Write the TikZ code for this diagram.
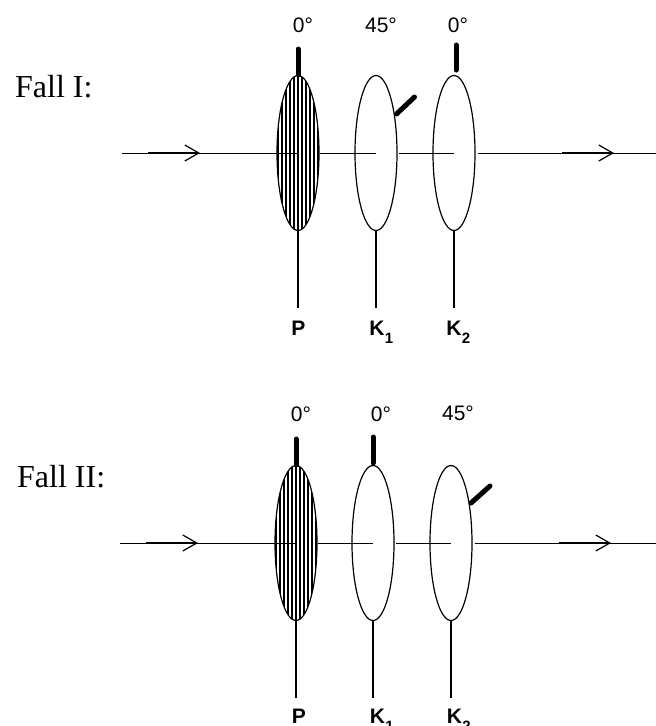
\documentclass[tikz,border=0pt]{standalone}
\usepackage{fontspec}
\setmainfont{Liberation Sans}
\newfontfamily\timesf{Liberation Serif}
\usetikzlibrary{shapes.geometric,arrows.meta}
\tikzset{
  x=1pt,y=-1pt,
  lens/.style={draw=black,ellipse,line width=1.2pt,minimum width=42pt,minimum height=155pt,inner sep=0pt},
  ax/.style={line width=1pt,draw=black},
  stem/.style={line width=1.3pt,draw=black},
  bar/.style={line width=5pt,draw=black,line cap=round},
  ang/.style={font=\fontsize{21}{23}\selectfont,inner sep=0pt,anchor=base},
  lab/.style={font=\fontsize{21}{23}\selectfont\bfseries,inner sep=0pt,anchor=base},
  fall/.style={font=\timesf\fontsize{32}{34}\selectfont,inner sep=0pt,anchor=base west},
  sb/.style={font=\fontsize{15}{15}\selectfont\bfseries,inner sep=0pt,anchor=base west},
  hatch/.style={line width=1.6pt,draw=black},
  arrowhead/.style={line width=1.3pt,draw=black,-{Straight Barb[length=14pt,width=16pt,line width=1.2pt]}}
}
% #1 x of P, #2 y of axis, #3 x K1, #4 x K2, #5 prefix
\newcommand{\rowdraw}[5]{%
  \begin{scope}
    \clip (#1,#2) ellipse [x radius=21,y radius=77.5];
    \foreach \d in {-20,-16,...,20} \draw[hatch] (#1+\d,#2-78) -- (#1+\d,#2+78);
  \end{scope}
  \node[lens] (#5p) at (#1,#2) {};
  \node[lens] (#5a) at (#3,#2) {};
  \node[lens] (#5b) at (#4,#2) {};
  \coordinate (#5s) at (#1-176,#2);
  \coordinate (#5e) at (656,#2);
  \coordinate (#5i) at (#1-150,#2);
  \coordinate (#5j) at (#1-98,#2);
  \coordinate (#5k) at (#4+108,#2);
  \coordinate (#5l) at (#4+160,#2);
  \draw[ax] (#5s) -- (#5p.center);
  \draw[ax] (#5p.east) -- (#5a.center);
  \draw[ax] ([xshift=1pt]#5a.east) -- (#5b.center);
  \draw[ax] ([xshift=2pt]#5b.east) -- (#5e);
  \draw[arrowhead] (#5i) -- (#5j);
  \draw[arrowhead] (#5k) -- (#5l);
  \coordinate (#5ps) at (#1,#2+155);
  \coordinate (#5as) at (#3,#2+155);
  \coordinate (#5bs) at (#4,#2+155);
  \draw[stem] (#5p.south) -- (#5ps);
  \draw[stem] (#5a.south) -- (#5as);
  \draw[stem] (#5b.south) -- (#5bs);
}
\begin{document}
\begin{tikzpicture}
\useasboundingbox (0,0) rectangle (656,726);
\rowdraw{298}{153}{376}{454}{u}
\rowdraw{296}{543}{373}{451}{v}
% top row
\node[fall] (f1) at (15,97) {Fall I:};
\node[ang] (u0) at (303,32) {0°};
\node[ang] (u45) at (381,32) {45°};
\node[ang] (u00) at (458,32) {0°};
\coordinate (ub1) at (298,49); \draw[bar] (ub1) -- (up.north);
\coordinate (ub2) at (456,45); \coordinate (ub3) at (456,70); \draw[bar] (ub2) -- (ub3);
\coordinate (ub4) at (396.5,114); \coordinate (ub5) at (414.5,97); \draw[bar] (ub4) -- (ub5);
\node[lab] (upl) at (298.5,335) {P};
\node[lab] (ual) at (377,335) {K};
\node[sb] (ua1) at (ual.base east) [yshift=-8pt] {1};
\node[lab] (ubl) at (454,335) {K};
\node[sb] (ub1l) at (ubl.base east) [yshift=-8pt] {2};
% bottom row
\node[fall] (f2) at (17,487) {Fall II:};
\node[ang] (v0) at (301,421) {0°};
\node[ang] (v00) at (381,421) {0°};
\node[ang] (v45) at (458,420) {45°};
\coordinate (vb1) at (296,439); \draw[bar] (vb1) -- (vp.north);
\coordinate (vb2) at (373,437); \coordinate (vb3) at (373,463); \draw[bar] (vb2) -- (vb3);
\coordinate (vb4) at (471,503); \coordinate (vb5) at (490,486); \draw[bar] (vb4) -- (vb5);
\node[lab] (vpl) at (299,723) {P};
\node[lab] (val) at (377.5,723) {K};
\node[sb] (va1) at (val.base east) [yshift=-8pt] {1};
\node[lab] (vbl) at (454.5,723) {K};
\node[sb] (vb1l) at (vbl.base east) [yshift=-8pt] {2};
\end{tikzpicture}
\end{document}
